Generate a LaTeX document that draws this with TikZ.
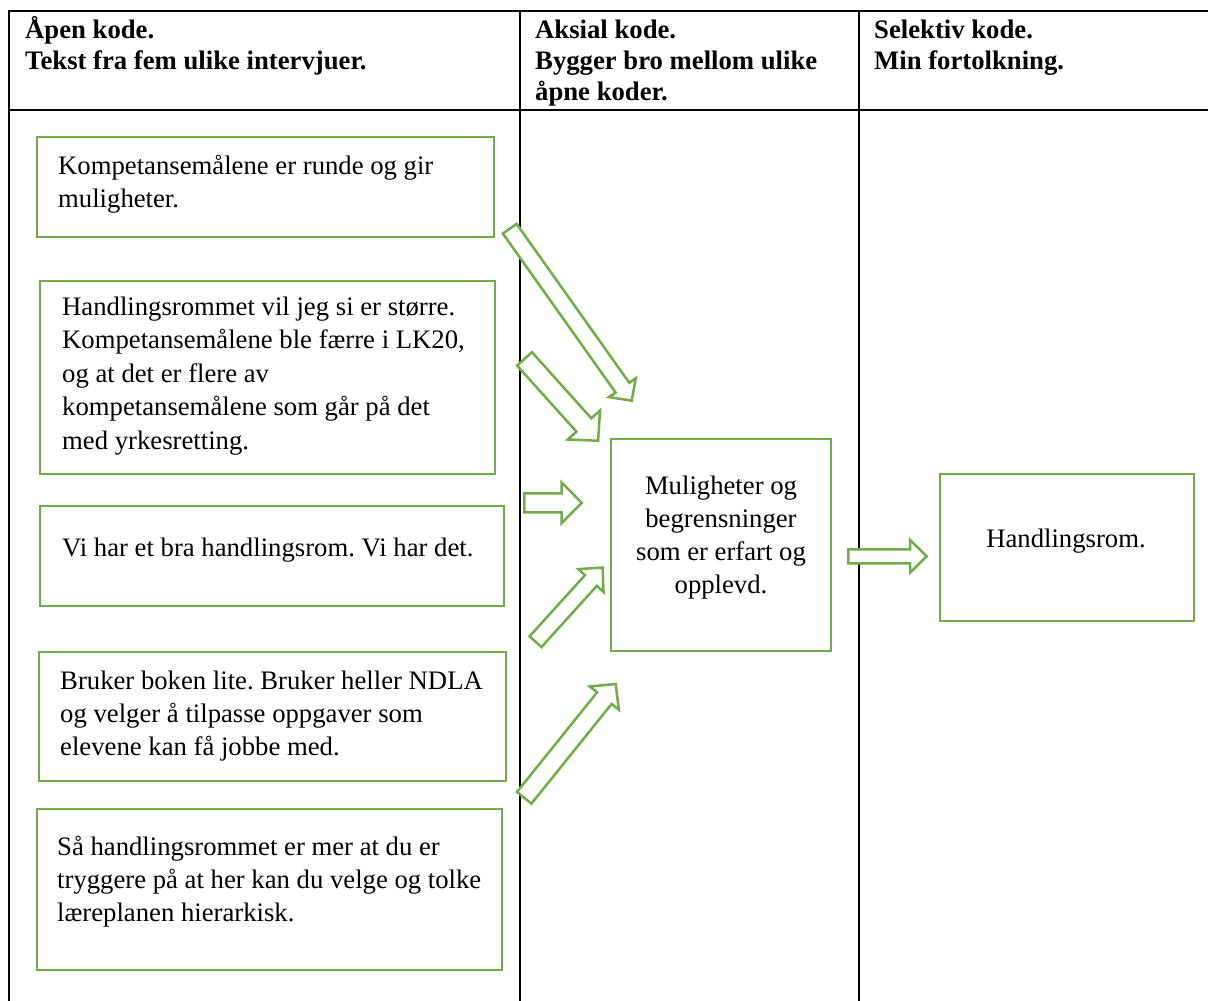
\documentclass[tikz,border=0pt]{standalone}
\usepackage{fontspec}
\setmainfont{Liberation Serif}
\frenchspacing
\definecolor{leaf}{HTML}{70AD47}
\tikzset{
  rule/.style={line width=2.4pt, black},
  gbox/.style={draw=leaf, line width=2.6pt, rectangle, inner sep=0pt, outer sep=0pt, anchor=north west},
  % multi-line nodes: the base anchor sits on the last line
  btxt/.style={inner sep=0pt, align=left, anchor=base west, font=\fontsize{26.7}{33}\selectfont},
  ctxt/.style={inner sep=0pt, align=center, anchor=base, font=\fontsize{26.7}{33}\selectfont},
  htxt/.style={inner sep=0pt, align=left, anchor=base west, font=\fontsize{26.7}{31}\selectfont\bfseries},
  arrowline/.style={draw=leaf, line width=2.5pt, fill=white, line join=miter}
}
% block arrow: tail x, tail y, tip x, tip y, half shaft, half head, head length
\newcommand\blockarrow[7]{%
  \pgfmathsetmacro\baang{atan2(#4-#2,#3-#1)}%
  \pgfmathsetmacro\balen{veclen(#3-#1,#4-#2)}%
  \begin{scope}[shift={(#1,#2)}, rotate=-\baang]
    \draw[arrowline] (0,-#5) -- ({\balen-#7},-#5) -- ({\balen-#7},-#6) -- (\balen,0)
      -- ({\balen-#7},#6) -- ({\balen-#7},#5) -- (0,#5) -- cycle;
  \end{scope}}
\begin{document}
\begin{tikzpicture}[x=1pt,y=-1pt]
\useasboundingbox (0,0) rectangle (1208,1001);

% table rules
\draw[rule] (9,1001) -- (9,11) -- (1208,11);
\draw[rule] (9,110) -- (1208,110);
\draw[rule] (520,11) -- (520,1001);
\draw[rule] (859,11) -- (859,1001);

% column headings
\node[htxt] (h1) at (25,69) {Åpen kode.\\Tekst fra fem ulike intervjuer.};
\node[htxt] (h2) at (535,100) {Aksial kode.\\Bygger bro mellom ulike\\åpne koder.};
\node[htxt] (h3) at (874,69) {Selektiv kode.\\Min fortolkning.};

% open codes
\node[gbox, minimum width=457pt, minimum height=100pt] (b1) at (37,137) {};
\node[gbox, minimum width=455pt, minimum height=193pt] (b2) at (40,281) {};
\node[gbox, minimum width=464pt, minimum height=100pt] (b3) at (40,506) {};
\node[gbox, minimum width=467pt, minimum height=129pt] (b4) at (39,652) {};
\node[gbox, minimum width=465pt, minimum height=161pt] (b5) at (37,809) {};

\node[btxt] (t1) at (58,207) {Kompetansemålene er runde og gir\\muligheter.};
\node[btxt, font=\fontsize{26.7}{33.5}\selectfont] (t2) at (62,449) {Handlingsrommet vil jeg si er større.\\Kompetansemålene ble færre i LK20,\\og at det er flere av\\kompetansemålene som går på det\\med yrkesretting.};
\node[btxt] (t3) at (62,556) {Vi har et bra handlingsrom. Vi har det.};
\node[btxt] (t4) at (60,755) {Bruker boken lite. Bruker heller NDLA\\og velger å tilpasse oppgaver som\\elevene kan få jobbe med.};
\node[btxt] (t5) at (57,921) {Så handlingsrommet er mer at du er\\tryggere på at her kan du velge og tolke\\læreplanen hierarkisk.};

% axial and selective codes
\node[gbox, minimum width=220pt, minimum height=212pt] (bm) at (611,439) {};
\node[ctxt] (tm) at (721,593) {Muligheter og\\begrensninger\\som er erfart og\\opplevd.};
\node[gbox, minimum width=254pt, minimum height=147pt] (br) at (940,474) {};
\node[ctxt] (tr) at (1066,547) {Handlingsrom.};

% block arrows
\blockarrow{509.7}{228.7}{631.7}{400.7}{8.4}{16.4}{16}
\blockarrow{524.5}{358.9}{598.3}{441}{10}{21.7}{21.2}
\blockarrow{524.3}{502.8}{581.7}{502.8}{9.5}{20.3}{20}
\blockarrow{535.5}{641.7}{602.8}{567.4}{8}{17}{17.5}
\blockarrow{524.2}{797.8}{615.7}{684}{9.3}{18.6}{18.1}
\blockarrow{848.3}{556.3}{926.7}{556.3}{7}{16.4}{16.7}
\end{tikzpicture}
\end{document}
